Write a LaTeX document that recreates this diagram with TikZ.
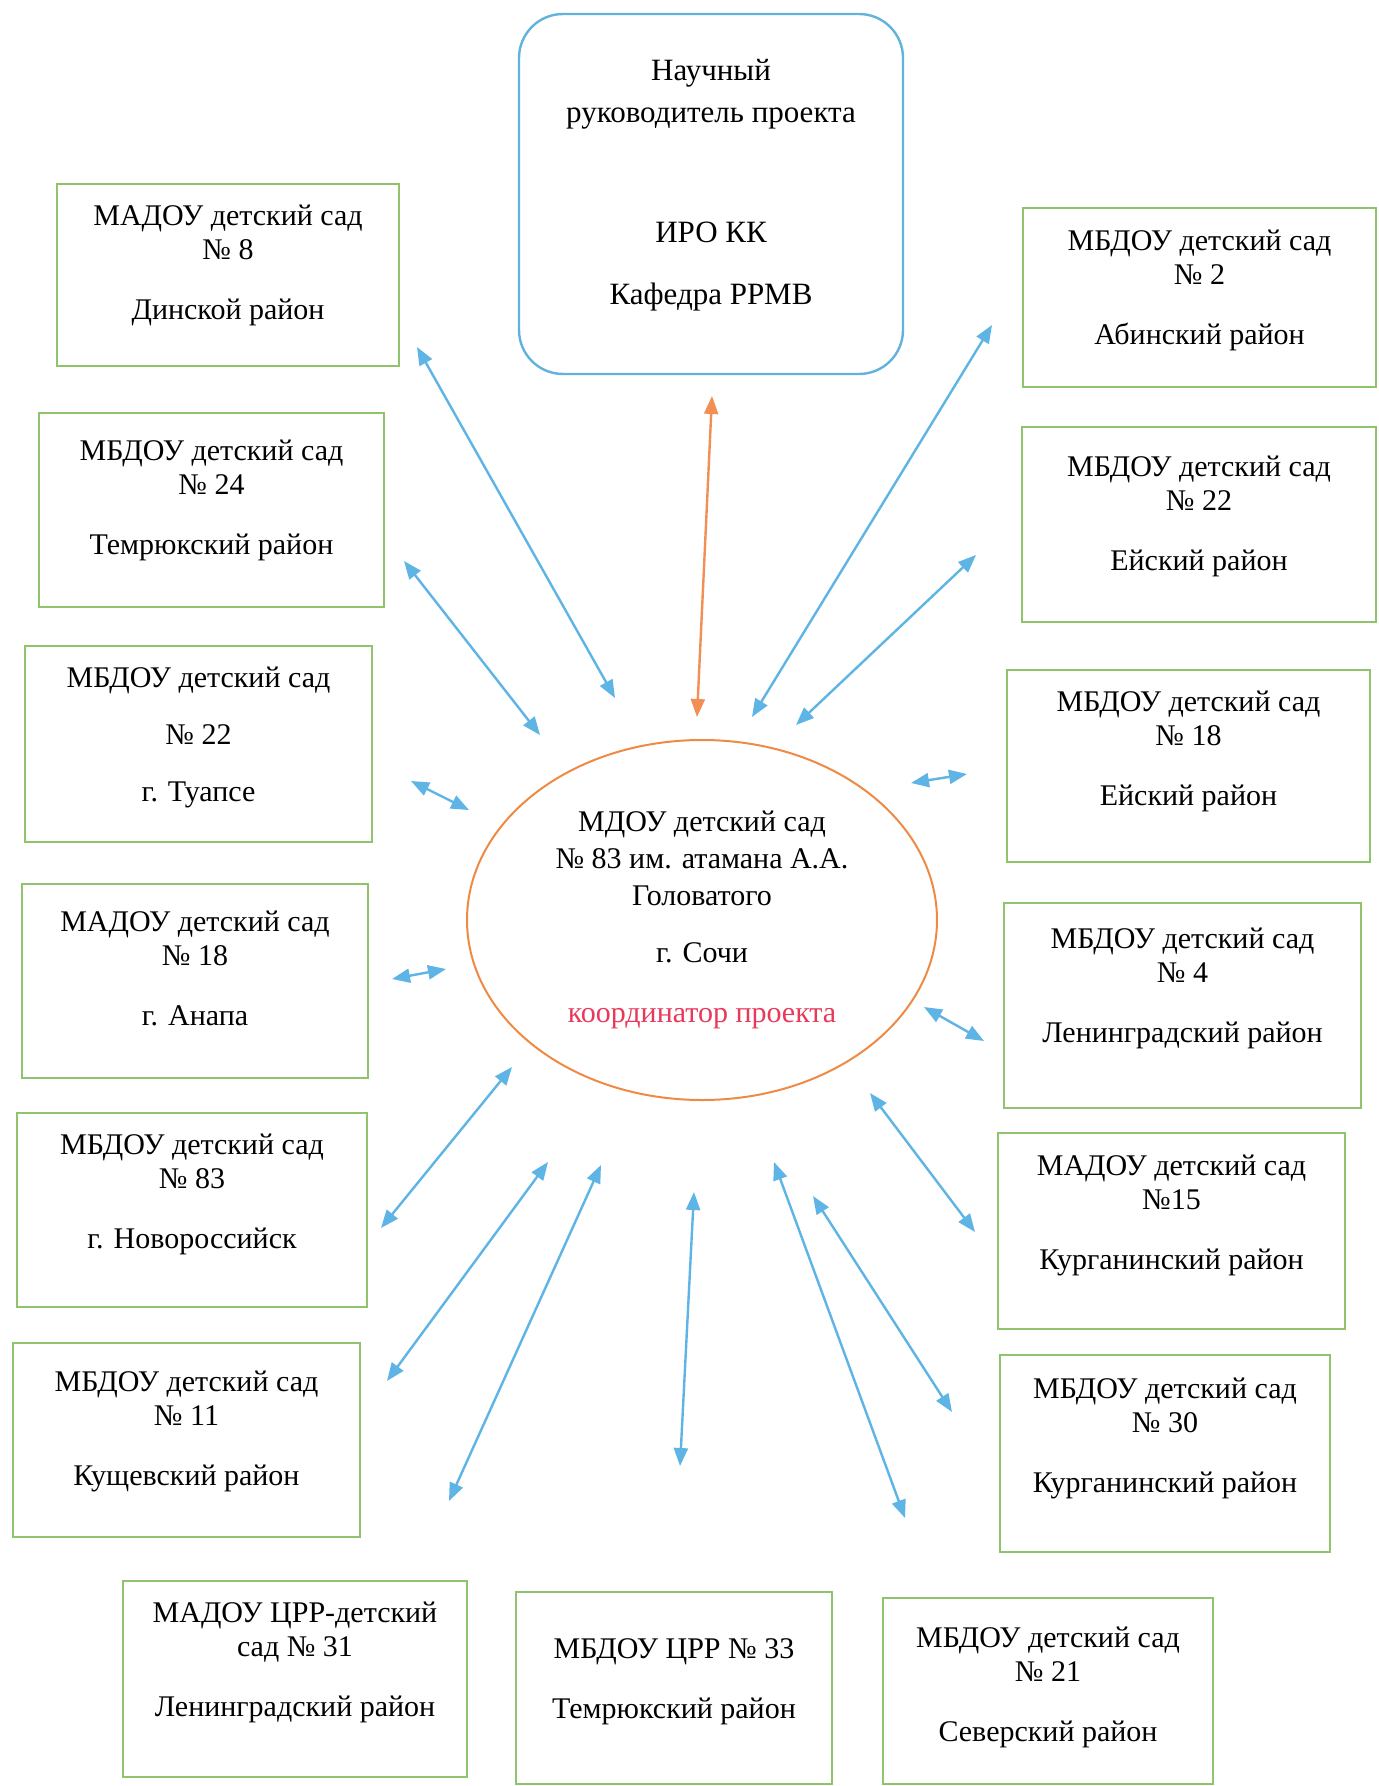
\documentclass[tikz,border=0pt]{standalone}
\usepackage{fontspec}
\setmainfont{Liberation Serif}
\usetikzlibrary{arrows.meta,shapes.geometric}
\definecolor{boxgreen}{HTML}{8FC46C}
\definecolor{boxblue}{HTML}{62B2DE}
\definecolor{ellorange}{HTML}{EF8A45}
\definecolor{arrblue}{HTML}{5DB4E5}
\definecolor{arrorange}{HTML}{F28F55}
\definecolor{coordred}{HTML}{E8395A}
\newcommand\lift[2]{\raisebox{#1}[\height][\depth]{\begin{tabular}{@{}c@{}}#2\end{tabular}}}
\tikzset{
  gbox/.style={draw=boxgreen, line width=1.2pt, rectangle, inner sep=0pt,
    font=\fontsize{15pt}{17pt}\selectfont},
  topbox/.style={draw=boxblue, line width=1.2pt, rectangle, rounded corners=22pt, inner sep=0pt,
    font=\fontsize{15.5pt}{17pt}\selectfont},
  centre/.style={draw=ellorange, line width=1pt, ellipse, align=center, inner sep=0pt,
    font=\fontsize{15pt}{18.5pt}\selectfont},
  link/.style={draw=arrblue, line width=1.2pt, {Triangle[length=9pt,width=7pt]}-{Triangle[length=9pt,width=7pt]}},
  olink/.style={draw=arrorange, line width=1.2pt, {Triangle[length=9pt,width=7pt]}-{Triangle[length=9pt,width=7pt]}}
}
\begin{document}
\begin{tikzpicture}[x=0.5pt,y=-0.5pt]
\useasboundingbox[fill=white] (0,0) rectangle (1378,1786);

% top
\node[topbox, minimum width=192pt, minimum height=180pt] (iro) at (711,194)
  {\lift{4pt}{Научный\\[4pt]руководитель проекта\\[43pt]ИРО КК\\[14pt]Кафедра РРМВ}};

% centre
\node[centre, minimum width=235pt, minimum height=180pt] (sochi) at (702,920)
  {МДОУ детский сад\\№ 83 им. атамана А.А.\\Головатого\\[10pt]г. Сочи\\[11.5pt]\textcolor{coordred}{координатор проекта}};

% left column
\node[gbox, minimum width=171pt, minimum height=91pt] (din) at (228,275)
  {\lift{4.5pt}{МАДОУ детский сад\\№ 8\\[13pt]Динской район}};
\node[gbox, minimum width=172.5pt, minimum height=97pt] (tem24) at (211.5,510)
  {\lift{4.5pt}{МБДОУ детский сад\\№ 24\\[13pt]Темрюкский район}};
\node[gbox, minimum width=173.5pt, minimum height=98pt] (tua) at (198.5,744)
  {\lift{3pt}{МБДОУ детский сад\\[11.5pt]№ 22\\[11.5pt]г. Туапсе}};
\node[gbox, minimum width=173pt, minimum height=97pt] (ana) at (195,981)
  {\lift{4.5pt}{МАДОУ детский сад\\№ 18\\[13pt]г. Анапа}};
\node[gbox, minimum width=175pt, minimum height=97pt] (nov) at (192,1210)
  {\lift{7.5pt}{МБДОУ детский сад\\№ 83\\[13pt]г. Новороссийск}};
\node[gbox, minimum width=173.5pt, minimum height=97pt] (kus) at (186.5,1440)
  {\lift{4pt}{МБДОУ детский сад\\№ 11\\[13pt]Кущевский район}};

% bottom row
\node[gbox, minimum width=172pt, minimum height=98pt] (len31) at (295,1679)
  {\lift{8pt}{МАДОУ ЦРР-детский\\сад № 31\\[13pt]Ленинградский район}};
\node[gbox, minimum width=158pt, minimum height=96pt] (tem33) at (674,1688)
  {\lift{3pt}{МБДОУ ЦРР № 33\\[13pt]Темрюкский район}};
\node[gbox, minimum width=165pt, minimum height=93pt] (sev) at (1048,1691)
  {\lift{1.5pt}{МБДОУ детский сад\\№ 21\\[13pt]Северский район}};

% right column
\node[gbox, minimum width=176.5pt, minimum height=89.5pt] (abi) at (1199.5,297.5)
  {\lift{3.5pt}{МБДОУ детский сад\\№ 2\\[13pt]Абинский район}};
\node[gbox, minimum width=177pt, minimum height=97.5pt] (eys22) at (1199,524.5)
  {\lift{4pt}{МБДОУ детский сад\\№ 22\\[13pt]Ейский район}};
\node[gbox, minimum width=181.5pt, minimum height=96pt] (eys18) at (1188.5,766)
  {\lift{7pt}{МБДОУ детский сад\\№ 18\\[13pt]Ейский район}};
\node[gbox, minimum width=178.5pt, minimum height=102.5pt] (len4) at (1182.5,1005.5)
  {\lift{8.5pt}{МБДОУ детский сад\\№ 4\\[13pt]Ленинградский район}};
\node[gbox, minimum width=173.5pt, minimum height=98pt] (kur15) at (1171.5,1231)
  {\lift{7.5pt}{МАДОУ детский сад\\№15\\[13pt]Курганинский район}};
\node[gbox, minimum width=165pt, minimum height=98.5pt] (kur30) at (1165,1453.5)
  {\lift{7.5pt}{МБДОУ детский сад\\№ 30\\[13pt]Курганинский район}};

% arrow end points
\coordinate (oT) at (712,396);   \coordinate (oB) at (697,717);
\coordinate (dinA) at (417,347); \coordinate (dinB) at (615,698);
\coordinate (temA) at (404,561); \coordinate (temB) at (540,735);
\coordinate (tuaA) at (411,781); \coordinate (tuaB) at (469,810);
\coordinate (anaA) at (392,979); \coordinate (anaB) at (446,969);
\coordinate (novA) at (381,1228); \coordinate (novB) at (512,1067);
\coordinate (kusA) at (387,1381); \coordinate (kusB) at (548,1162);
\coordinate (lenA) at (449,1501); \coordinate (lenB) at (601,1165);
\coordinate (trrA) at (680,1466); \coordinate (trrB) at (694,1192);
\coordinate (sevA) at (905,1518); \coordinate (sevB) at (774,1162);
\coordinate (k30A) at (952,1412); \coordinate (k30B) at (813,1196);
\coordinate (k15A) at (975,1232); \coordinate (k15B) at (870,1093);
\coordinate (l4A) at (984,1041); \coordinate (l4B) at (924,1007);
\coordinate (e18A) at (967,774); \coordinate (e18B) at (911,783);
\coordinate (e22A) at (976,555); \coordinate (e22B) at (796,725);
\coordinate (abiA) at (992,325); \coordinate (abiB) at (752,717);

\draw[olink] (oT) -- (oB);
\draw[link] (dinA) -- (dinB);
\draw[link] (temA) -- (temB);
\draw[link] (tuaA) -- (tuaB);
\draw[link] (anaA) -- (anaB);
\draw[link] (novA) -- (novB);
\draw[link] (kusA) -- (kusB);
\draw[link] (lenA) -- (lenB);
\draw[link] (trrA) -- (trrB);
\draw[link] (sevA) -- (sevB);
\draw[link] (k30A) -- (k30B);
\draw[link] (k15A) -- (k15B);
\draw[link] (l4A) -- (l4B);
\draw[link] (e18A) -- (e18B);
\draw[link] (e22A) -- (e22B);
\draw[link] (abiA) -- (abiB);
\end{tikzpicture}
\end{document}
